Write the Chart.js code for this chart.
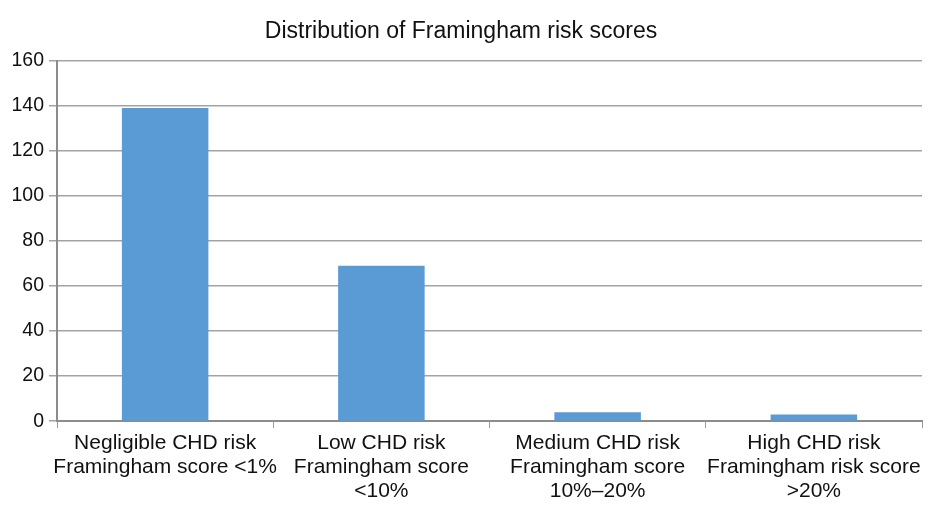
<!DOCTYPE html>
<html><head><meta charset="utf-8">
<script src="https://cdn.jsdelivr.net/npm/chart.js@4/dist/chart.umd.min.js"></script>
<style>html,body{margin:0;padding:0;background:#fff}#wrap{width:928px;height:506px}</style>
</head><body><div id="wrap"><canvas id="c" width="928" height="506"></canvas></div>
<script>
const categories = [
  ["Negligible CHD risk", "Framingham score <1%"],
  ["Low CHD risk", "Framingham score", "<10%"],
  ["Medium CHD risk", "Framingham score", "10%\u201320%"],
  ["High CHD risk", "Framingham risk score", ">20%"]
];
const counts = [139, 69, 4, 3];
const titleText = "Distribution of Framingham risk scores";
const yMin = 0, yMax = 160, yStep = 20;

const FONT = "'Liberation Sans', Arial, sans-serif";
new Chart(document.getElementById('c'), {
  type: 'bar',
  data: { labels: categories, datasets: [{ data: counts, backgroundColor: '#5B9BD5', borderWidth: 0,
    categoryPercentage: 1.0, barPercentage: 0.4 }] },
  options: {
    responsive: false, animation: false,
    layout: { padding: { left: 0, right: 6, top: 0, bottom: 0 } },
    plugins: {
      legend: { display: false }, tooltip: { enabled: false },
      title: { display: true, text: titleText, color: '#111', font: { family: FONT, size: 23, weight: 'normal', lineHeight: 1.2 }, padding: { top: 18, bottom: 15 } }
    },
    scales: {
      x: {
        grid: { offset: true, drawOnChartArea: false, drawTicks: true, tickLength: 7, color: '#999' },
        border: { color: '#8c8c8c', width: 2 },
        ticks: { color: '#111', font: { family: FONT, size: 21, lineHeight: 1.14 }, maxRotation: 0, autoSkip: false, padding: 3 }
      },
      y: {
        min: yMin, max: yMax,
        afterFit: s => { s.width = 57; },
        grid: { color: '#a3a3a3', tickLength: 8, lineWidth: 1.5 },
        border: { color: '#8c8c8c', width: 2 },
        ticks: { stepSize: yStep, color: '#111', font: { family: FONT, size: 19.5 }, padding: 5 }
      }
    }
  }
});
</script></body></html>
